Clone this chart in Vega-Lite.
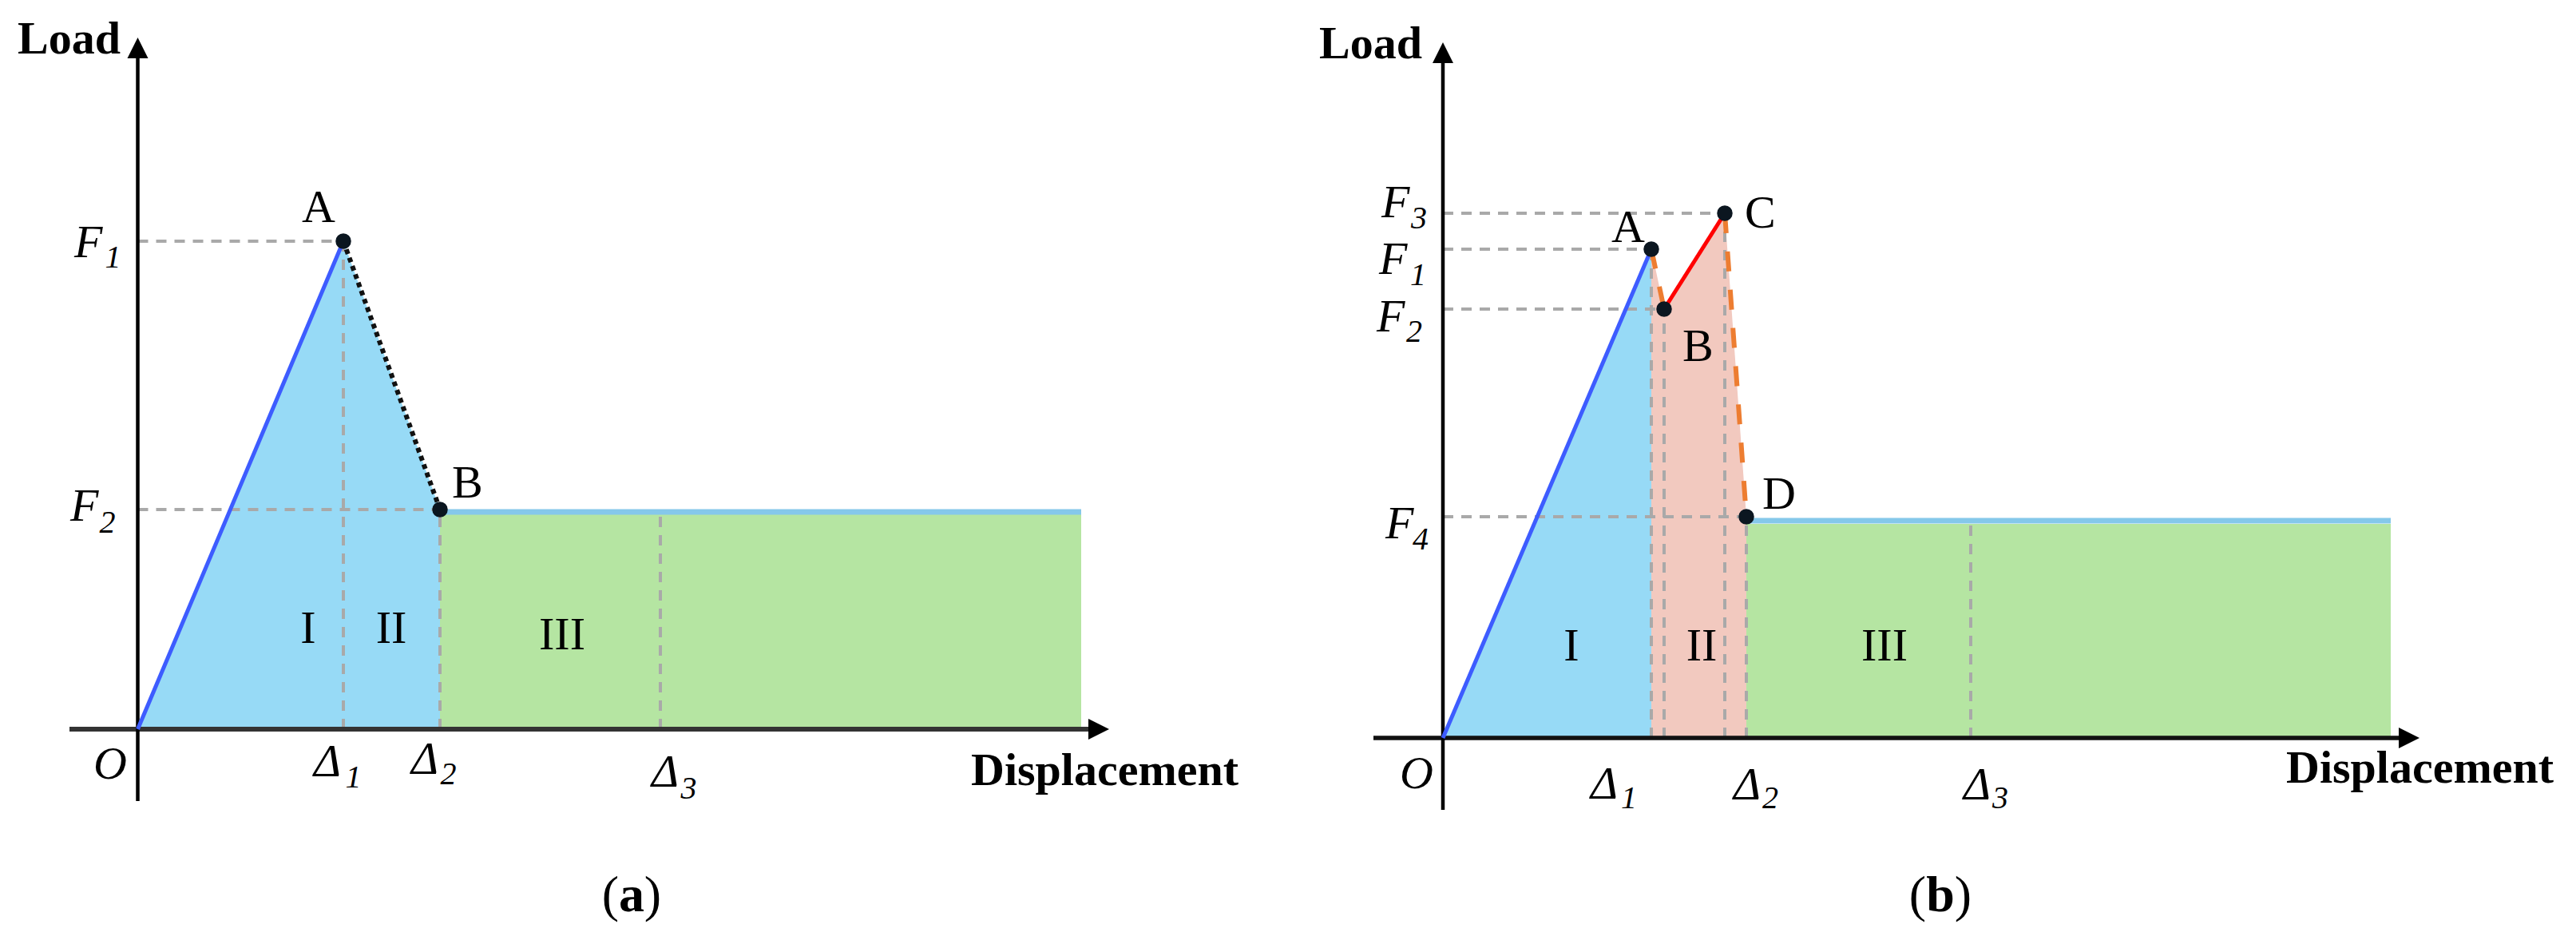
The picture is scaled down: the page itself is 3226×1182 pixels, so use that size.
{
  "$schema": "https://vega.github.io/schema/vega-lite/v6.json",
  "padding": 0,
  "spacing": 0,
  "background": "white",
  "config": {"view": {"stroke": null}},
  "hconcat": [
    {
      "width": 1613,
      "height": 1182,
      "data": {"values": [
        {"kind": "blue", "x": 0, "y": 0},
        {"kind": "blue", "x": 2.575, "y": 6.11},
        {"kind": "blue", "x": 3.785, "y": 2.75},
        {"kind": "green", "x": 3.785, "x2": 11.815, "y": 0, "y2": 2.69},
        {"kind": "top", "x": 3.785, "x2": 11.815, "y": 2.72, "y2": 2.72},
        {"kind": "guide", "x": 0, "x2": 2.575, "y": 6.11, "y2": 6.11},
        {"kind": "guide", "x": 0, "x2": 3.785, "y": 2.75, "y2": 2.75},
        {"kind": "guide", "x": 2.575, "x2": 2.575, "y": 0, "y2": 6.11},
        {"kind": "guide", "x": 3.785, "x2": 3.785, "y": 0, "y2": 2.75},
        {"kind": "guide", "x": 6.545, "x2": 6.545, "y": 0, "y2": 2.69},
        {"kind": "xaxis", "x": -0.855, "x2": 11.95, "y": 0, "y2": 0},
        {"kind": "yaxis", "x": 0, "x2": 0, "y": -0.9, "y2": 8.4},
        {"kind": "arrowUp", "x": 0, "y": 8.53},
        {"kind": "arrowRight", "x": 12.035, "y": 0},
        {"kind": "elastic", "x": 0, "x2": 2.575, "y": 0, "y2": 6.11},
        {"kind": "dotted", "x": 2.575, "x2": 3.785, "y": 6.11, "y2": 2.75},
        {"kind": "pt", "x": 2.575, "y": 6.11},
        {"kind": "pt", "x": 3.785, "y": 2.75},
        {"kind": "tBold", "x": -1.505, "y": 8.46, "label": "Load"},
        {"kind": "tBold", "x": 10.435, "y": -0.7, "label": "Displacement"},
        {"kind": "tItal", "x": -0.795, "y": 5.91, "label": "F"},
        {"kind": "tSub", "x": -0.41, "y": 5.78, "label": "1"},
        {"kind": "tItal", "x": -0.845, "y": 2.61, "label": "F"},
        {"kind": "tSub", "x": -0.48, "y": 2.46, "label": "2"},
        {"kind": "tItal", "x": -0.555, "y": -0.62, "label": "O"},
        {"kind": "tItal", "x": 2.205, "y": -0.59, "label": "Δ"},
        {"kind": "tSub", "x": 2.6, "y": -0.73, "label": "1"},
        {"kind": "tItal", "x": 3.425, "y": -0.56, "label": "Δ"},
        {"kind": "tSub", "x": 3.79, "y": -0.69, "label": "2"},
        {"kind": "tItal", "x": 6.435, "y": -0.72, "label": "Δ"},
        {"kind": "tSub", "x": 6.8, "y": -0.87, "label": "3"},
        {"kind": "tReg", "x": 2.055, "y": 6.35, "label": "A"},
        {"kind": "tReg", "x": 3.935, "y": 2.9, "label": "B"},
        {"kind": "tRom", "x": 2.135, "y": 1.08, "label": "I"},
        {"kind": "tRom", "x": 3.175, "y": 1.08, "label": "II"},
        {"kind": "tRom", "x": 5.315, "y": 1.0, "label": "III"},
        {"kind": "tParen", "x": 5.92, "y": -2.28, "label": "("},
        {"kind": "tLetter", "x": 6.185, "y": -2.28, "label": "a"},
        {"kind": "tParen", "x": 6.45, "y": -2.28, "label": ")"}
      ]},
      "encoding": {
        "x": {"field": "x", "type": "quantitative", "scale": {"domain": [-1.725, 14.405], "nice": false, "zero": false}, "axis": null},
        "y": {"field": "y", "type": "quantitative", "scale": {"domain": [-2.69, 9.13], "nice": false, "zero": false}, "axis": null}
      },
      "layer": [
        {"transform": [{"filter": "datum.kind === 'blue'"}], "mark": {"type": "area", "color": "#97DAF6", "opacity": 1}, "encoding": {"y2": {"datum": 0}}},
        {"transform": [{"filter": "datum.kind === 'green'"}], "mark": {"type": "rect", "color": "#B5E5A2", "opacity": 1}, "encoding": {"x2": {"field": "x2"}, "y2": {"field": "y2"}}},
        {"transform": [{"filter": "datum.kind === 'top'"}], "mark": {"type": "rule", "color": "#85C8EA", "strokeWidth": 7}, "encoding": {"x2": {"field": "x2"}, "y2": {"field": "y2"}}},
        {"transform": [{"filter": "datum.kind === 'guide'"}], "mark": {"type": "rule", "color": "#A9A9A9", "strokeWidth": 4, "strokeDash": [13, 10]}, "encoding": {"x2": {"field": "x2"}, "y2": {"field": "y2"}}},
        {"transform": [{"filter": "datum.kind === 'xaxis'"}], "mark": {"type": "rule", "color": "#333333", "strokeWidth": 6}, "encoding": {"x2": {"field": "x2"}, "y2": {"field": "y2"}}},
        {"transform": [{"filter": "datum.kind === 'yaxis'"}], "mark": {"type": "rule", "color": "#000000", "strokeWidth": 4.5}, "encoding": {"x2": {"field": "x2"}, "y2": {"field": "y2"}}},
        {"transform": [{"filter": "datum.kind === 'arrowUp'"}], "mark": {"type": "point", "shape": "M0,-1L1,1L-1,1Z", "size": 676, "filled": true, "color": "#000000", "opacity": 1}},
        {"transform": [{"filter": "datum.kind === 'arrowRight'"}], "mark": {"type": "point", "shape": "M1,0L-1,-1L-1,1Z", "size": 676, "filled": true, "color": "#000000", "opacity": 1}},
        {"transform": [{"filter": "datum.kind === 'elastic'"}], "mark": {"type": "rule", "color": "#3D5CFF", "strokeWidth": 5}, "encoding": {"x2": {"field": "x2"}, "y2": {"field": "y2"}}},
        {"transform": [{"filter": "datum.kind === 'dotted'"}], "mark": {"type": "rule", "color": "#111111", "strokeWidth": 6, "strokeDash": [6, 5]}, "encoding": {"x2": {"field": "x2"}, "y2": {"field": "y2"}}},
        {"transform": [{"filter": "datum.kind === 'pt'"}], "mark": {"type": "circle", "size": 380, "color": "#0B1620", "opacity": 1}},
        {"transform": [{"filter": "datum.kind === 'tBold'"}], "mark": {"type": "text", "font": "Liberation Serif", "fontSize": 58, "fontWeight": "bold", "align": "left", "baseline": "alphabetic", "color": "#000000"}, "encoding": {"text": {"field": "label"}}},
        {"transform": [{"filter": "datum.kind === 'tItal'"}], "mark": {"type": "text", "font": "Liberation Serif", "fontSize": 58, "fontStyle": "italic", "align": "left", "baseline": "alphabetic", "color": "#000000"}, "encoding": {"text": {"field": "label"}}},
        {"transform": [{"filter": "datum.kind === 'tSub'"}], "mark": {"type": "text", "font": "Liberation Serif", "fontSize": 40, "fontStyle": "italic", "align": "left", "baseline": "alphabetic", "color": "#000000"}, "encoding": {"text": {"field": "label"}}},
        {"transform": [{"filter": "datum.kind === 'tReg'"}], "mark": {"type": "text", "font": "Liberation Serif", "fontSize": 58, "align": "left", "baseline": "alphabetic", "color": "#000000"}, "encoding": {"text": {"field": "label"}}},
        {"transform": [{"filter": "datum.kind === 'tRom'"}], "mark": {"type": "text", "font": "Liberation Serif", "fontSize": 58, "align": "center", "baseline": "alphabetic", "color": "#000000"}, "encoding": {"text": {"field": "label"}}},
        {"transform": [{"filter": "datum.kind === 'tParen'"}], "mark": {"type": "text", "font": "Liberation Serif", "fontSize": 64, "align": "center", "baseline": "alphabetic", "color": "#000000"}, "encoding": {"text": {"field": "label"}}},
        {"transform": [{"filter": "datum.kind === 'tLetter'"}], "mark": {"type": "text", "font": "Liberation Serif", "fontSize": 64, "fontWeight": "bold", "align": "center", "baseline": "alphabetic", "color": "#000000"}, "encoding": {"text": {"field": "label"}}}
      ]
    },
    {
      "width": 1613,
      "height": 1182,
      "data": {"values": [
        {"kind": "blue", "x": 0, "y": 0},
        {"kind": "blue", "x": 2.61, "y": 6.12},
        {"kind": "pink", "x": 2.61, "y": 6.12},
        {"kind": "pink", "x": 2.77, "y": 5.37},
        {"kind": "pink", "x": 3.53, "y": 6.57},
        {"kind": "pink", "x": 3.8, "y": 2.77},
        {"kind": "green", "x": 3.8, "x2": 11.87, "y": 0, "y2": 2.68},
        {"kind": "top", "x": 3.8, "x2": 11.87, "y": 2.72, "y2": 2.72},
        {"kind": "guide", "x": 0, "x2": 3.53, "y": 6.57, "y2": 6.57},
        {"kind": "guide", "x": 0, "x2": 2.61, "y": 6.12, "y2": 6.12},
        {"kind": "guide", "x": 0, "x2": 2.77, "y": 5.37, "y2": 5.37},
        {"kind": "guide", "x": 0, "x2": 3.8, "y": 2.77, "y2": 2.77},
        {"kind": "guide", "x": 2.61, "x2": 2.61, "y": 0, "y2": 6.12},
        {"kind": "guide", "x": 2.77, "x2": 2.77, "y": 0, "y2": 5.37},
        {"kind": "guide", "x": 3.53, "x2": 3.53, "y": 0, "y2": 6.57},
        {"kind": "guide", "x": 3.8, "x2": 3.8, "y": 0, "y2": 2.77},
        {"kind": "guide", "x": 6.61, "x2": 6.61, "y": 0, "y2": 2.68},
        {"kind": "xaxis", "x": -0.87, "x2": 12.0, "y": 0, "y2": 0},
        {"kind": "yaxis", "x": 0, "x2": 0, "y": -0.9, "y2": 8.45},
        {"kind": "arrowUp", "x": 0, "y": 8.58},
        {"kind": "arrowRight", "x": 12.1, "y": 0},
        {"kind": "elastic", "x": 0, "x2": 2.61, "y": 0, "y2": 6.12},
        {"kind": "orange", "x": 2.61, "x2": 2.77, "y": 6.12, "y2": 5.37},
        {"kind": "orange", "x": 3.53, "x2": 3.8, "y": 6.57, "y2": 2.77},
        {"kind": "red", "x": 2.77, "x2": 3.53, "y": 5.37, "y2": 6.57},
        {"kind": "pt", "x": 2.61, "y": 6.12},
        {"kind": "pt", "x": 2.77, "y": 5.37},
        {"kind": "pt", "x": 3.53, "y": 6.57},
        {"kind": "pt", "x": 3.8, "y": 2.77},
        {"kind": "tBold", "x": -1.55, "y": 8.51, "label": "Load"},
        {"kind": "tBold", "x": 10.56, "y": -0.56, "label": "Displacement"},
        {"kind": "tItal", "x": -0.77, "y": 6.52, "label": "F"},
        {"kind": "tSub", "x": -0.4, "y": 6.38, "label": "3"},
        {"kind": "tItal", "x": -0.8, "y": 5.81, "label": "F"},
        {"kind": "tSub", "x": -0.41, "y": 5.67, "label": "1"},
        {"kind": "tItal", "x": -0.83, "y": 5.09, "label": "F"},
        {"kind": "tSub", "x": -0.46, "y": 4.96, "label": "2"},
        {"kind": "tItal", "x": -0.72, "y": 2.5, "label": "F"},
        {"kind": "tSub", "x": -0.38, "y": 2.36, "label": "4"},
        {"kind": "tItal", "x": -0.54, "y": -0.63, "label": "O"},
        {"kind": "tItal", "x": 1.85, "y": -0.76, "label": "Δ"},
        {"kind": "tSub", "x": 2.23, "y": -0.88, "label": "1"},
        {"kind": "tItal", "x": 3.64, "y": -0.77, "label": "Δ"},
        {"kind": "tSub", "x": 4.0, "y": -0.88, "label": "2"},
        {"kind": "tItal", "x": 6.52, "y": -0.77, "label": "Δ"},
        {"kind": "tSub", "x": 6.88, "y": -0.88, "label": "3"},
        {"kind": "tReg", "x": 2.11, "y": 6.21, "label": "A"},
        {"kind": "tReg", "x": 3.0, "y": 4.72, "label": "B"},
        {"kind": "tReg", "x": 3.78, "y": 6.39, "label": "C"},
        {"kind": "tReg", "x": 4.0, "y": 2.87, "label": "D"},
        {"kind": "tRom", "x": 1.61, "y": 0.97, "label": "I"},
        {"kind": "tRom", "x": 3.24, "y": 0.97, "label": "II"},
        {"kind": "tRom", "x": 5.53, "y": 0.97, "label": "III"},
        {"kind": "tParen", "x": 5.945, "y": -2.17, "label": "("},
        {"kind": "tLetter", "x": 6.23, "y": -2.17, "label": "b"},
        {"kind": "tParen", "x": 6.515, "y": -2.17, "label": ")"}
      ]},
      "encoding": {
        "x": {"field": "x", "type": "quantitative", "scale": {"domain": [-1.94, 14.19], "nice": false, "zero": false}, "axis": null},
        "y": {"field": "y", "type": "quantitative", "scale": {"domain": [-2.58, 9.24], "nice": false, "zero": false}, "axis": null}
      },
      "layer": [
        {"transform": [{"filter": "datum.kind === 'blue'"}], "mark": {"type": "area", "color": "#97DAF6", "opacity": 1}, "encoding": {"y2": {"datum": 0}}},
        {"transform": [{"filter": "datum.kind === 'pink'"}], "mark": {"type": "area", "color": "#F2C9BF", "opacity": 1}, "encoding": {"y2": {"datum": 0}}},
        {"transform": [{"filter": "datum.kind === 'green'"}], "mark": {"type": "rect", "color": "#B5E5A2", "opacity": 1}, "encoding": {"x2": {"field": "x2"}, "y2": {"field": "y2"}}},
        {"transform": [{"filter": "datum.kind === 'top'"}], "mark": {"type": "rule", "color": "#85C8EA", "strokeWidth": 7}, "encoding": {"x2": {"field": "x2"}, "y2": {"field": "y2"}}},
        {"transform": [{"filter": "datum.kind === 'guide'"}], "mark": {"type": "rule", "color": "#A9A9A9", "strokeWidth": 4, "strokeDash": [13, 10]}, "encoding": {"x2": {"field": "x2"}, "y2": {"field": "y2"}}},
        {"transform": [{"filter": "datum.kind === 'xaxis'"}], "mark": {"type": "rule", "color": "#111111", "strokeWidth": 5.5}, "encoding": {"x2": {"field": "x2"}, "y2": {"field": "y2"}}},
        {"transform": [{"filter": "datum.kind === 'yaxis'"}], "mark": {"type": "rule", "color": "#000000", "strokeWidth": 4.5}, "encoding": {"x2": {"field": "x2"}, "y2": {"field": "y2"}}},
        {"transform": [{"filter": "datum.kind === 'arrowUp'"}], "mark": {"type": "point", "shape": "M0,-1L1,1L-1,1Z", "size": 676, "filled": true, "color": "#000000", "opacity": 1}},
        {"transform": [{"filter": "datum.kind === 'arrowRight'"}], "mark": {"type": "point", "shape": "M1,0L-1,-1L-1,1Z", "size": 676, "filled": true, "color": "#000000", "opacity": 1}},
        {"transform": [{"filter": "datum.kind === 'elastic'"}], "mark": {"type": "rule", "color": "#3D5CFF", "strokeWidth": 5}, "encoding": {"x2": {"field": "x2"}, "y2": {"field": "y2"}}},
        {"transform": [{"filter": "datum.kind === 'orange'"}], "mark": {"type": "rule", "color": "#ED7D31", "strokeWidth": 6, "strokeDash": [25, 23]}, "encoding": {"x2": {"field": "x2"}, "y2": {"field": "y2"}}},
        {"transform": [{"filter": "datum.kind === 'red'"}], "mark": {"type": "rule", "color": "#FF0000", "strokeWidth": 5}, "encoding": {"x2": {"field": "x2"}, "y2": {"field": "y2"}}},
        {"transform": [{"filter": "datum.kind === 'pt'"}], "mark": {"type": "circle", "size": 380, "color": "#0B1620", "opacity": 1}},
        {"transform": [{"filter": "datum.kind === 'tBold'"}], "mark": {"type": "text", "font": "Liberation Serif", "fontSize": 58, "fontWeight": "bold", "align": "left", "baseline": "alphabetic", "color": "#000000"}, "encoding": {"text": {"field": "label"}}},
        {"transform": [{"filter": "datum.kind === 'tItal'"}], "mark": {"type": "text", "font": "Liberation Serif", "fontSize": 58, "fontStyle": "italic", "align": "left", "baseline": "alphabetic", "color": "#000000"}, "encoding": {"text": {"field": "label"}}},
        {"transform": [{"filter": "datum.kind === 'tSub'"}], "mark": {"type": "text", "font": "Liberation Serif", "fontSize": 40, "fontStyle": "italic", "align": "left", "baseline": "alphabetic", "color": "#000000"}, "encoding": {"text": {"field": "label"}}},
        {"transform": [{"filter": "datum.kind === 'tReg'"}], "mark": {"type": "text", "font": "Liberation Serif", "fontSize": 58, "align": "left", "baseline": "alphabetic", "color": "#000000"}, "encoding": {"text": {"field": "label"}}},
        {"transform": [{"filter": "datum.kind === 'tRom'"}], "mark": {"type": "text", "font": "Liberation Serif", "fontSize": 58, "align": "center", "baseline": "alphabetic", "color": "#000000"}, "encoding": {"text": {"field": "label"}}},
        {"transform": [{"filter": "datum.kind === 'tParen'"}], "mark": {"type": "text", "font": "Liberation Serif", "fontSize": 64, "align": "center", "baseline": "alphabetic", "color": "#000000"}, "encoding": {"text": {"field": "label"}}},
        {"transform": [{"filter": "datum.kind === 'tLetter'"}], "mark": {"type": "text", "font": "Liberation Serif", "fontSize": 64, "fontWeight": "bold", "align": "center", "baseline": "alphabetic", "color": "#000000"}, "encoding": {"text": {"field": "label"}}}
      ]
    }
  ]
}
